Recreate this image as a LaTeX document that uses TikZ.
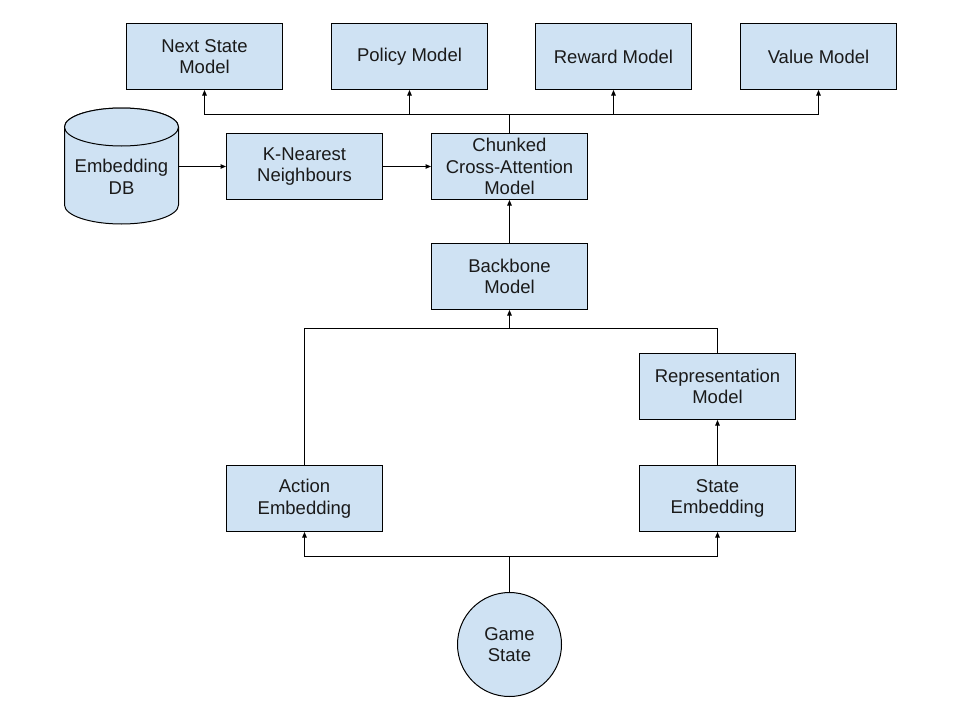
\documentclass[tikz,border=0pt]{standalone}
\usepackage{fontspec}
\setmainfont{Liberation Sans}
\usetikzlibrary{arrows.meta}

\definecolor{blockFill}{HTML}{CFE2F3}
\definecolor{blockText}{HTML}{1A1A1A}

\begin{document}
\begin{tikzpicture}[x=1pt, y=-1pt, line join=miter]

% ---------------- styles ----------------
\tikzset{
  blkBox/.style   ={draw, line width=1pt, fill=blockFill, text=blockText,
                    minimum width=156pt, minimum height=66pt, inner sep=0pt,
                    align=center, font=\fontsize{18.5}{21.7}\selectfont},
  blkDisc/.style  ={blkBox, circle, minimum size=104pt},
  blkDB/.style    ={draw, line width=1pt, fill=blockFill},
  blkLabel/.style ={text=blockText, align=center, inner sep=0pt,
                    minimum width=114pt, font=\fontsize{18.5}{21.7}\selectfont},
  flowLine/.style ={draw, line width=1pt},
  flowArrow/.style={flowLine, -{Triangle[length=5.5pt, width=4.5pt]}}
}

% ---------------- parameters (in px of the page) ----------------
\def\BusTop{114.5} % bus above the chunked model
\def\BusMid{328.5} % bus below the backbone
\def\BusBot{556.5} % bus above the game state
\def\DBry{19}      % rim half height of the database

% ---------------- frame ----------------
\useasboundingbox (0,0) rectangle (960,720);

% ---------------- output heads ----------------
\node[blkBox] (nextState) at (204.5,56.5) {Next State\\Model};
\node[blkBox] (policy)    at (409.5,56.5) {Policy Model};
\node[blkBox] (reward)    at (613.5,56.5) {Reward Model};
\node[blkBox] (value)     at (818.5,56.5) {Value Model};

% ---------------- retrieval row ----------------
% database cylinder (body, then top rim)
\path[blkDB] (64.5,127) -- (64.5,205)
  arc[start angle=180, end angle=0, x radius=57, y radius=\DBry]
  -- (178.5,127)
  arc[start angle=0, end angle=-180, x radius=57, y radius=\DBry] -- cycle;
\path[blkDB] (121.5,127) ellipse[x radius=57, y radius=\DBry];
\node[blkLabel] (embDB) at (121.5,177) {Embedding\\DB};

\node[blkBox] (knn)   at (304.5,166.5) {K-Nearest\\Neighbours};
\node[blkBox] (chunk) at (509.5,166.5) {Chunked\\Cross-Attention\\Model};

% ---------------- trunk ----------------
\node[blkBox]  (backbone) at (509.5,276.5) {Backbone\\Model};
\node[blkBox]  (repr)     at (717.5,386.5) {Representation\\Model};
\node[blkBox]  (action)   at (304.5,498.5) {Action\\Embedding};
\node[blkBox]  (stateEmb) at (717.5,498.5) {State\\Embedding};
\node[blkDisc] (game)     at (509.5,644.5) {Game\\State};

% ---------------- connectors ----------------
% fan out to the heads
\coordinate (topJoin) at (509.5,\BusTop);
\draw[flowLine] (chunk.north) -- (topJoin);
\foreach \head in {nextState, policy, reward, value}
  \draw[flowArrow] (topJoin) -| (\head.south);

% retrieval chain
\draw[flowArrow] (embDB.east |- knn.west) -- (knn.west);
\draw[flowArrow] (knn) -- (chunk);
\draw[flowArrow] (backbone) -- (chunk);

% merge into the backbone
\coordinate (midJoin) at (509.5,\BusMid);
\draw[flowArrow] (action.north) |- (midJoin) -- (backbone.south);
\draw[flowLine]  (repr.north) |- (midJoin);
\draw[flowArrow] (stateEmb) -- (repr);

% split from the game state
\coordinate (botJoin) at (509.5,\BusBot);
\draw[flowLine]  (game.north) -- (botJoin);
\draw[flowArrow] (botJoin) -| (action.south);
\draw[flowArrow] (botJoin) -| (stateEmb.south);

\end{tikzpicture}
\end{document}
